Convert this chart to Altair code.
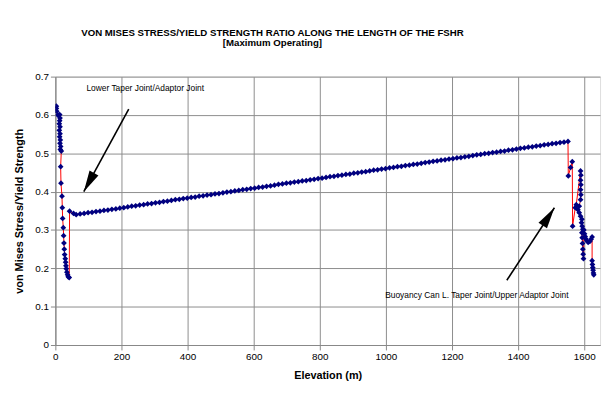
import altair as alt
import pandas as pd

# ---- data ----
left_elev = [3, 3, 4, 8, 10, 13, 14, 13, 12, 14, 12, 14, 13, 15, 14, 16, 15, 18, 16, 17,
             20, 21, 22, 24, 25, 26, 27, 28, 30, 31, 32, 33, 35, 37, 39, 42, 43, 55]
left_ratio = [0.623, 0.617, 0.610, 0.600, 0.598, 0.601, 0.592, 0.585, 0.577, 0.569,
              0.560, 0.551, 0.543, 0.535, 0.526, 0.518, 0.510, 0.506, 0.465, 0.422,
              0.388, 0.358, 0.330, 0.306, 0.285, 0.266, 0.250, 0.236, 0.225, 0.216,
              0.207, 0.199, 0.190, 0.183, 0.178, 0.176, 0.349, 0.343]

mid_elev = [63, 75, 87, 99, 111, 123, 135, 147, 159, 171,
            183, 195, 207, 219, 231, 243, 255, 267, 279, 291,
            303, 315, 327, 339, 351, 363, 375, 387, 399, 411,
            423, 435, 447, 459, 471, 483, 495, 507, 519, 531,
            543, 555, 567, 579, 591, 603, 615, 627, 639, 651,
            663, 675, 687, 699, 711, 723, 735, 747, 759, 771,
            783, 795, 807, 819, 831, 843, 855, 867, 879, 891,
            903, 915, 927, 939, 951, 963, 975, 987, 999, 1011,
            1023, 1035, 1047, 1059, 1071, 1083, 1095, 1107, 1119, 1131,
            1143, 1155, 1167, 1179, 1191, 1203, 1215, 1227, 1239, 1251,
            1263, 1275, 1287, 1299, 1311, 1323, 1335, 1347, 1359, 1371,
            1383, 1395, 1407, 1419, 1431, 1443, 1455, 1467, 1479, 1491,
            1503, 1515, 1527, 1539, 1551]
mid_ratio = [0.340, 0.342, 0.343, 0.345, 0.346, 0.348, 0.349, 0.351, 0.352, 0.354,
             0.355, 0.357, 0.358, 0.360, 0.362, 0.363, 0.365, 0.366, 0.368, 0.369,
             0.371, 0.372, 0.374, 0.375, 0.377, 0.379, 0.380, 0.382, 0.383, 0.385,
             0.386, 0.388, 0.389, 0.391, 0.392, 0.394, 0.395, 0.397, 0.399, 0.400,
             0.402, 0.403, 0.405, 0.406, 0.408, 0.409, 0.411, 0.412, 0.414, 0.415,
             0.417, 0.419, 0.420, 0.422, 0.423, 0.425, 0.426, 0.428, 0.429, 0.431,
             0.432, 0.434, 0.435, 0.437, 0.439, 0.440, 0.442, 0.443, 0.445, 0.446,
             0.448, 0.449, 0.451, 0.452, 0.454, 0.456, 0.457, 0.459, 0.460, 0.462,
             0.463, 0.465, 0.466, 0.468, 0.469, 0.471, 0.472, 0.474, 0.476, 0.477,
             0.479, 0.480, 0.482, 0.483, 0.485, 0.486, 0.488, 0.489, 0.491, 0.492,
             0.494, 0.496, 0.497, 0.499, 0.500, 0.502, 0.503, 0.505, 0.506, 0.508,
             0.509, 0.511, 0.513, 0.514, 0.516, 0.517, 0.519, 0.520, 0.522, 0.523,
             0.525, 0.526, 0.528, 0.529, 0.531]

right_elev = [1552, 1559, 1564, 1565, 1573, 1576, 1589, 1590, 1589, 1590,
              1589, 1590, 1589, 1585, 1581, 1585, 1589, 1593, 1592, 1594,
              1596, 1593, 1594, 1595, 1596, 1597, 1598, 1599, 1601, 1603,
              1605, 1608, 1612, 1617, 1621, 1624, 1624, 1625, 1626, 1627,
              1628, 1629]
right_ratio = [0.441, 0.463, 0.478, 0.310, 0.358, 0.366, 0.454, 0.443, 0.430, 0.418,
               0.405, 0.392, 0.379, 0.362, 0.353, 0.345, 0.336, 0.328, 0.319, 0.310,
               0.302, 0.293, 0.280, 0.265, 0.250, 0.237, 0.225, 0.300, 0.290, 0.283,
               0.277, 0.272, 0.268, 0.270, 0.276, 0.282, 0.220, 0.210, 0.202, 0.195,
               0.188, 0.183]

x_ticks = [0, 200, 400, 600, 800, 1000, 1200, 1400, 1600]
y_ticks = [0, 0.1, 0.2, 0.3, 0.4, 0.5, 0.6, 0.7]

ann_text = ["Lower Taper Joint/Adaptor Joint",
            "Buoyancy Can L. Taper Joint/Upper Adaptor Joint"]
ann_x = [94, 998]
ann_y = [0.671, 0.130]

arrow_x = [222, 1366]
arrow_y = [0.615, 0.169]
arrow_x2 = [86, 1510]
arrow_y2 = [0.400, 0.358]
arrow_angle = [208.7, 33.4]

elev = left_elev + mid_elev + right_elev
ratio = left_ratio + mid_ratio + right_ratio
n = min(len(elev), len(ratio))
df = pd.DataFrame({"Elevation": elev[:n], "Ratio": ratio[:n], "idx": list(range(n))})
ann_df = pd.DataFrame({"x": ann_x, "y": ann_y, "t": ann_text})
arr_df = pd.DataFrame({"x": arrow_x, "y": arrow_y, "x2": arrow_x2, "y2": arrow_y2,
                       "a": arrow_angle})

FONT = "Liberation Sans"
GRID = "#8c8c8c"
x_scale = alt.Scale(domain=[0, 1648], nice=False, zero=False)
y_scale = alt.Scale(domain=[0, 0.7], nice=False)

x_axis = alt.Axis(values=x_ticks, title="Elevation (m)", format="d", titlePadding=8,
                  grid=True, gridColor=GRID, gridOpacity=1, labelOverlap=False,
                  labelFlush=False)
y_axis = alt.Axis(values=y_ticks, title="von Mises Stress/Yield Strength",
                  labelExpr="datum.value == 0 ? '0' : format(datum.value, '.1f')",
                  titlePadding=10, grid=True, gridColor=GRID, gridOpacity=1,
                  labelOverlap=False, labelFlush=False)

x_enc = alt.X("Elevation:Q", scale=x_scale, axis=x_axis)
y_enc = alt.Y("Ratio:Q", scale=y_scale, axis=y_axis)

base = alt.Chart(df)
line = base.mark_line(color="#FF0000", strokeWidth=1, clip=True).encode(
    x=x_enc, y=y_enc, order="idx:Q")
pts = base.mark_point(shape="diamond", filled=True, size=34, color="#000080",
                      opacity=1, clip=True).encode(x=x_enc, y=y_enc)

ann = alt.Chart(ann_df).mark_text(align="left", baseline="middle", font=FONT,
                                  fontSize=8.5, color="black").encode(
    x=alt.X("x:Q", scale=x_scale, axis=x_axis),
    y=alt.Y("y:Q", scale=y_scale, axis=y_axis), text="t:N")

arr_line = alt.Chart(arr_df).mark_rule(color="black", strokeWidth=1.6).encode(
    x=alt.X("x:Q", scale=x_scale, axis=x_axis),
    y=alt.Y("y:Q", scale=y_scale, axis=y_axis), x2="x2:Q", y2="y2:Q")
arr_head = alt.Chart(arr_df).mark_point(
    shape="M0,0 L0.5,2.1 L-0.5,2.1 Z", filled=True, color="black", size=420,
    opacity=1).encode(
    x=alt.X("x2:Q", scale=x_scale, axis=x_axis),
    y=alt.Y("y2:Q", scale=y_scale, axis=y_axis),
    angle=alt.Angle("a:Q", scale=None))

chart = alt.layer(line, pts, arr_line, arr_head, ann).properties(
    width=552, height=272,
    padding={"left": 48, "top": 67, "right": 3, "bottom": 39},
    autosize=alt.AutoSizeParams(type="none"),
    title=alt.Title(
        text=["VON MISES STRESS/YIELD STRENGTH RATIO ALONG THE LENGTH OF THE FSHR",
              "[Maximum Operating]"],
        font=FONT, fontSize=9.8, fontWeight="bold", anchor="middle", dx=-56,
        offset=24, lineHeight=10, color="black"),
).configure_view(stroke="black", strokeWidth=1).configure_axis(
    labelFont=FONT, labelFontSize=11, labelColor="black",
    titleFont=FONT, titleFontSize=10, titleFontWeight="bold", titleColor="black",
    domainColor="black", tickColor="black", tickSize=4, labelPadding=3,
).configure(background="white")

chart.save("out.html", embed_options={"renderer": "svg", "actions": False})
